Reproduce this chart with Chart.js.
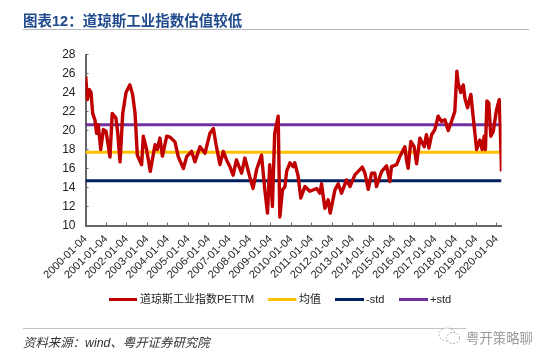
<!DOCTYPE html>
<html><head><meta charset="utf-8">
<script src="https://cdn.jsdelivr.net/npm/chart.js@4/dist/chart.umd.min.js"></script>
<style>
html,body{margin:0;padding:0;background:#fff;width:550px;height:360px;overflow:hidden}
#t{position:absolute;left:23px;top:9px;font:bold 14.5px "Liberation Sans","Noto Sans CJK SC";color:#1f4a8c;white-space:nowrap}
#r1{position:absolute;left:23px;top:29px;width:506px;height:1px;background:#b4b8bd}
#r2{position:absolute;left:23px;top:328px;width:506px;height:1px;background:#c4c4c4}
#s{position:absolute;left:23px;top:333px;font:italic 12.4px "Liberation Sans","Noto Sans CJK SC";color:#333;white-space:nowrap}
#w{position:absolute;left:466px;top:327px;font:13.4px "Noto Sans CJK SC";color:#9a9a9a;white-space:nowrap;background:#fff}
#i{position:absolute;left:438px;top:327px}
#c{position:absolute;left:0;top:0}
</style></head><body>
<canvas id="c" width="550" height="360"></canvas>
<div id="t">图表12：道琼斯工业指数估值较低</div><div id="r1"></div><div id="r2"></div>
<div id="s">资料来源：wind、粤开证券研究院</div><div id="w">粤开策略聊</div>
<svg id="i" width="23" height="18"><g fill="#fff" stroke="#aaa" stroke-width="1" stroke-dasharray="2 1.5"><ellipse cx="9" cy="7.5" rx="8" ry="6.5"/><ellipse cx="15" cy="11" rx="6.5" ry="5.5"/></g></svg>
<script>
const yearLabels=[2000,2001,2002,2003,2004,2005,2006,2007,2008,2009,2010,2011,2012,2013,2014,2015,2016,2017,2018,2019,2020];
const dates=[2000.01,2000.09,2000.19,2000.27,2000.35,2000.46,2000.54,2000.62,2000.74,2000.87,2001.0,2001.19,2001.3,2001.48,2001.56,2001.68,2001.81,2001.97,2002.16,2002.29,2002.41,2002.52,2002.73,2002.81,2002.97,2003.15,2003.38,2003.49,2003.62,2003.74,2003.95,2004.11,2004.35,2004.51,2004.76,2004.92,2005.16,2005.32,2005.57,2005.81,2006.05,2006.22,2006.35,2006.54,2006.7,2006.86,2007.02,2007.18,2007.34,2007.59,2007.75,2007.99,2008.15,2008.32,2008.56,2008.72,2008.85,2008.96,2009.09,2009.2,2009.37,2009.45,2009.58,2009.7,2009.78,2009.94,2010.1,2010.18,2010.34,2010.47,2010.67,2010.91,2011.24,2011.4,2011.48,2011.64,2011.8,2011.9,2012.13,2012.29,2012.45,2012.69,2012.86,2013.1,2013.46,2013.59,2013.75,2013.91,2014.07,2014.15,2014.4,2014.64,2014.8,2014.88,2015.13,2015.29,2015.53,2015.61,2015.69,2015.82,2015.98,2016.1,2016.26,2016.47,2016.58,2016.7,2016.83,2016.99,2017.15,2017.31,2017.48,2017.64,2017.8,2017.96,2018.06,2018.12,2018.25,2018.37,2018.45,2018.58,2018.74,2018.85,2019.02,2019.18,2019.29,2019.39,2019.45,2019.52,2019.61,2019.71,2019.83,2019.99,2020.12,2020.17,2020.23];
const pe=[25.7,23.25,24.3,24,21.8,21.1,19.7,20.6,18,20.1,19.9,17.2,21.8,21.3,19.9,16.7,21.8,24,24.8,23.8,21.8,17.4,16.4,19.4,18,15.7,18.5,18,19.2,17.3,19.4,19.3,18.8,17.25,16,17.25,17.8,16.7,18.3,17.6,19.7,20.2,18.5,16.4,17.8,16.9,16.2,15.3,16.9,15.5,17.1,15.1,13.9,15.9,17.4,13.75,11.3,16.4,12,19.7,21.5,10.9,13.75,14.1,15.7,16.6,16.2,16.6,15.2,12.9,14.1,13.6,13.9,13.4,14.4,11.8,12.7,11.3,13.75,14.4,13.4,14.8,14.1,15.33,16.14,15.5,13.8,15.5,15.5,14.1,15.68,16.28,14.63,16.2,16.4,17.27,18.3,16.9,16.03,18.85,18.3,16.5,19.2,18.3,19.55,18.15,19.55,20.1,21.5,20.96,21.14,20,20.96,22,26.25,25,24,24.8,23.4,22.4,23.8,21.5,18,19,18,19.4,18,23.1,22.9,19.4,19.9,22.2,23.25,20.4,15.7];
const meanVal=17.7, minusStd=14.7, plusStd=20.6;
const seriesNames=["道琼斯工业指数PETTM","均值","-std","+std"];
const colors=["#c00000","#ffc000","#002060","#7030a0"];
const xEnd=2020.23;
const lineDs=(label,color,data,w)=>({label,data,borderColor:color,backgroundColor:color,borderWidth:w,pointRadius:0,tension:0,borderCapStyle:'butt',borderJoinStyle:'round'});
const flat=v=>[{x:2000,y:v},{x:xEnd,y:v}];
new Chart(document.getElementById('c'),{type:'line',data:{datasets:[
 lineDs(seriesNames[0],colors[0],dates.map((d,i)=>({x:d,y:pe[i]})),3.4),
 lineDs(seriesNames[1],colors[1],flat(meanVal),3),
 lineDs(seriesNames[2],colors[2],flat(minusStd),3),
 lineDs(seriesNames[3],colors[3],flat(plusStd),3)
]},options:{responsive:false,animation:false,
 layout:{padding:{left:0,right:48.5,top:54.5,bottom:0}},
 plugins:{legend:{display:false},tooltip:{enabled:false}},
 scales:{
  x:{type:'linear',min:2000,max:xEnd,afterBuildTicks:a=>{a.ticks=yearLabels.map(v=>({value:v}))},afterFit:a=>{a.height=134.5},
   grid:{display:true,drawOnChartArea:false,drawTicks:true,tickLength:-3,tickColor:'#666'},border:{color:'#666',width:2},
   ticks:{autoSkip:false,maxRotation:45,minRotation:45,padding:10,color:'#222',font:{family:'"Liberation Sans"',size:11},callback:v=>v+'-01-04'}},
  y:{min:10,max:28,afterFit:a=>{a.width=85.5},
   grid:{display:true,drawOnChartArea:false,drawTicks:true,tickLength:-3,tickColor:'#666'},border:{color:'#666',width:2},
   ticks:{stepSize:2,color:'#222',font:{family:'"Liberation Sans"',size:12},padding:13}}
 }},
 plugins:[{id:'lg',afterDraw(ch){
  const c=ch.ctx,xs=[[109,137,140],[268,296.5,299],[335,364,366],[399,428,430]],y=299.5;
  c.save();c.font='11px "Liberation Sans","Noto Sans CJK SC"';c.fillStyle='#222';c.textBaseline='middle';
  seriesNames.forEach((n,i)=>{c.strokeStyle=colors[i];c.lineWidth=3;c.beginPath();c.moveTo(xs[i][0],y);c.lineTo(xs[i][1],y);c.stroke();c.fillText(n,xs[i][2],y)});
  c.restore();
 }}]
});
</script></body></html>
